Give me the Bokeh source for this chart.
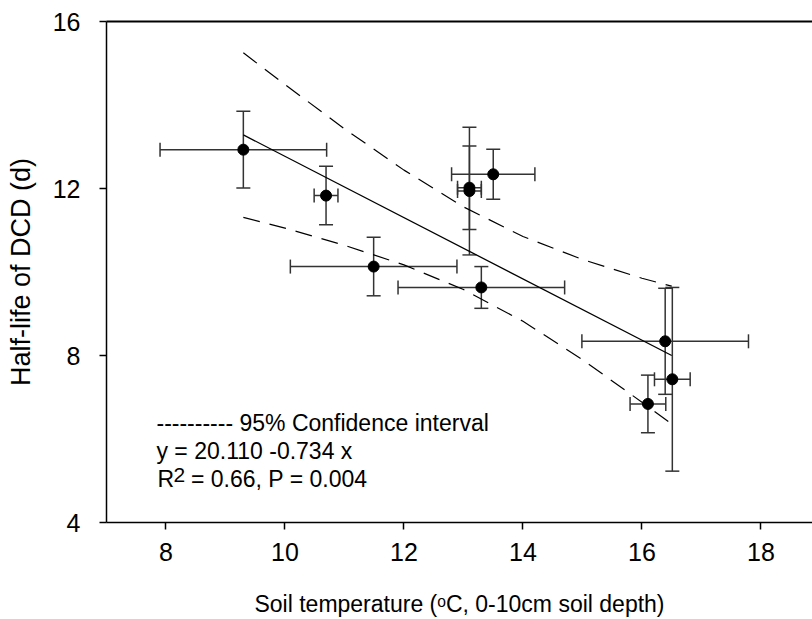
from bokeh.plotting import figure
from bokeh.models import (Range1d, Whisker, TeeHead, ColumnDataSource, Label,
                          LinearAxis, FixedTicker)
from bokeh.embed import file_html
from bokeh.resources import INLINE

# ---- data ----
temp = [9.30, 10.69, 11.49, 13.30, 13.10, 13.10, 13.50, 16.39, 16.51, 16.10]
half_life = [12.93, 11.83, 10.13, 9.63, 12.02, 11.94, 12.34, 8.34, 7.43, 6.84]
temp_err = [1.40, 0.20, 1.40, 1.40, 0.20, 0.20, 0.70, 1.40, 0.30, 0.30]
hl_err = [0.92, 0.70, 0.70, 0.50, 1.00, 1.53, 0.60, 1.27, 2.20, 0.69]

intercept = 20.110
slope = -0.734
fit_x = [9.30, 16.50]

ci_x = [9.3, 10.0, 11.0, 12.0, 13.0, 14.0, 15.0, 16.0, 16.5]
ci_upper = [15.25, 14.49, 13.43, 12.44, 11.56, 10.85, 10.30, 9.85, 9.66]
ci_lower = [11.31, 11.05, 10.64, 10.17, 9.58, 8.82, 7.90, 6.88, 6.36]

x_ticks = [8, 10, 12, 14, 16, 18]
y_ticks = [4, 8, 12, 16]

FONT = "Liberation Sans"
ERR = "#333333"

p = figure(width=812, height=619, x_range=Range1d(7, 18.866), y_range=Range1d(4, 16),
           output_backend="svg", toolbar_location=None,
           min_border_left=106, min_border_right=0, min_border_top=21, min_border_bottom=97)
p.outline_line_color = None
p.xgrid.visible = False
p.ygrid.visible = False
p.background_fill_color = "white"
p.border_fill_color = "white"

for ax, ticks in ((p.xaxis[0], x_ticks), (p.yaxis[0], y_ticks)):
    ax.ticker = FixedTicker(ticks=ticks)
    ax.major_tick_out = 7
    ax.major_tick_in = 0
    ax.minor_tick_out = 0
    ax.minor_tick_in = 0
    ax.axis_line_width = 1.5
    ax.major_tick_line_width = 1.5
    ax.axis_line_color = "black"
    ax.major_tick_line_color = "black"
    ax.major_label_text_font = FONT
    ax.major_label_text_font_size = "25px"
    ax.major_label_text_color = "black"
    ax.axis_label_text_font = FONT
    ax.axis_label_text_font_style = "normal"
    ax.axis_label_text_color = "black"

p.xaxis.major_label_standoff = 13
p.xaxis.axis_label = "Soil temperature (\u1d52C, 0-10cm soil depth)"
p.xaxis.axis_label_text_font_size = "23px"
p.xaxis.axis_label_standoff = 27

p.yaxis.major_label_standoff = 19
p.yaxis.axis_label = "Half-life of DCD (d)"
p.yaxis.axis_label_text_font_size = "27px"
p.yaxis.axis_label_standoff = 14

top = LinearAxis(ticker=FixedTicker(ticks=[]), major_label_text_font_size="0px",
                 major_tick_out=0, major_tick_in=0, minor_tick_out=0, minor_tick_in=0,
                 axis_line_width=2, axis_line_color="black")
p.add_layout(top, "above")

# regression line and confidence band
fit_y = [intercept + slope * v for v in fit_x]
p.line(fit_x, fit_y, line_color="black", line_width=1.3)
p.line(ci_x, ci_upper, line_color="black", line_width=1.2, line_dash="17 10")
p.line(ci_x, ci_lower, line_color="black", line_width=1.2, line_dash="17 10")

src = ColumnDataSource(dict(
    x=temp, y=half_life,
    xlo=[a - b for a, b in zip(temp, temp_err)],
    xhi=[a + b for a, b in zip(temp, temp_err)],
    ylo=[a - b for a, b in zip(half_life, hl_err)],
    yhi=[a + b for a, b in zip(half_life, hl_err)],
))

def head():
    return TeeHead(size=14, line_color=ERR, line_width=1.5)

p.add_layout(Whisker(base="x", upper="yhi", lower="ylo", dimension="height", source=src,
                     line_color=ERR, line_width=1.5, upper_head=head(), lower_head=head()))
p.add_layout(Whisker(base="y", upper="xhi", lower="xlo", dimension="width", source=src,
                     line_color=ERR, line_width=1.5, upper_head=head(), lower_head=head()))

p.scatter("x", "y", source=src, size=11, fill_color="black", line_color="black")

def lab(x, y, text, size="23px"):
    p.add_layout(Label(x=x, y=y, text=text, text_font=FONT, text_font_size=size,
                       text_color="black", text_baseline="alphabetic", text_align="left"))

lab(7.84, 6.376, "---------- 95% Confidence interval")
lab(7.84, 5.717, "y = 20.110 -0.734 x")
lab(7.857, 5.047, "R")
lab(8.126, 5.143, "2", "21px")
lab(8.42, 5.047, "= 0.66, P = 0.004")

open("out.html", "w").write(file_html(p, INLINE))
